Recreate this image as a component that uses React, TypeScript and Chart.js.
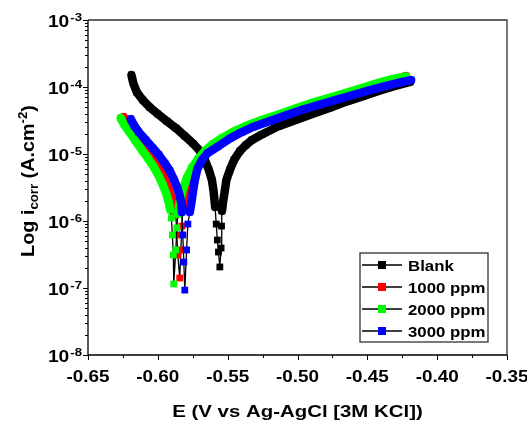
import { useEffect, useRef } from 'react';
import { Chart, registerables } from 'chart.js';
Chart.register(...registerables);

const seriesLabels = ['Blank', '1000 ppm', '2000 ppm', '3000 ppm'];
const seriesColors = ['#000000', '#ff0000', '#00ff00', '#0000ff'];

// Blank
const blankE = [-0.6189, -0.6176, -0.6151, -0.6108, -0.6058, -0.6000, -0.5936, -0.5871, -0.5807, -0.5749, -0.5699, -0.5663, -0.5635, -0.5613, -0.5602, -0.5595,
  -0.5590, -0.5582, -0.5574, -0.5566, -0.5556, -0.5547, -0.5544, -0.5541,
  -0.5534, -0.5523, -0.5509, -0.5484, -0.5455, -0.5412, -0.5369, -0.5326, -0.5255, -0.5140, -0.5018, -0.4889, -0.4767, -0.4645, -0.4530, -0.4409, -0.4301, -0.4193];
const blankI = [1.51e-4, 1.15e-4, 8.4e-5, 6.4e-5, 5.0e-5, 3.95e-5, 3.1e-5, 2.44e-5, 1.86e-5, 1.44e-5, 1.11e-5, 8.1e-6, 5.8e-6, 4.1e-6, 2.9e-6, 2.13e-6,
  1.62e-6, 9.0e-7, 5.2e-7, 3.44e-7, 2.06e-7, 3.95e-7, 8.4e-7, 1.41e-6,
  1.86e-6, 2.6e-6, 4.1e-6, 5.8e-6, 8.1e-6, 1.11e-5, 1.36e-5, 1.62e-5, 1.95e-5, 2.57e-5, 3.2e-5, 4.0e-5, 4.9e-5, 6.1e-5, 7.3e-5, 8.9e-5, 1.04e-4, 1.19e-4];

// 1000 ppm
const ppm1000E = [-0.6244, -0.6223, -0.6187, -0.6140, -0.6094, -0.6050, -0.6007, -0.5972, -0.5943, -0.5918, -0.5900, -0.5886,
  -0.5871, -0.5864, -0.5857, -0.5843, -0.5835, -0.5828, -0.5821,
  -0.5807, -0.5785, -0.5756, -0.5721, -0.5678, -0.5627, -0.5570, -0.5506, -0.5427, -0.5341, -0.5226, -0.5104, -0.4982, -0.4860, -0.4746, -0.4624, -0.4502, -0.4387, -0.4301, -0.4222];
const ppm1000I = [3.56e-5, 2.90e-5, 2.24e-5, 1.67e-5, 1.25e-5, 9.7e-6, 7.3e-6, 5.4e-6, 3.95e-6, 2.9e-6, 2.2e-6, 1.73e-6,
  1.23e-6, 6.2e-7, 3.11e-7, 1.41e-7, 3.7e-7, 8.4e-7, 1.51e-6,
  2.2e-6, 3.33e-6, 4.86e-6, 6.86e-6, 9.0e-6, 1.15e-5, 1.41e-5, 1.67e-5, 2.06e-5, 2.53e-5, 3.16e-5, 3.89e-5, 4.78e-5, 5.77e-5, 6.85e-5, 8.13e-5, 9.66e-5, 1.13e-4, 1.27e-4, 1.46e-4];

// 2000 ppm
const ppm2000E = [-0.6266, -0.6244, -0.6208, -0.6165, -0.6115, -0.6072, -0.6029, -0.5993, -0.5964, -0.5939, -0.5921, -0.5911,
  -0.5903, -0.5896, -0.5889, -0.5886, -0.5871, -0.5864, -0.5857,
  -0.5843, -0.5821, -0.5792, -0.5756, -0.5713, -0.5663, -0.5606, -0.5541, -0.5455, -0.5362, -0.5247, -0.5126, -0.5004, -0.4889, -0.4767, -0.4645, -0.4530, -0.4409, -0.4315, -0.4222];
const ppm2000I = [3.44e-5, 2.81e-5, 2.20e-5, 1.62e-5, 1.15e-5, 8.7e-6, 6.4e-6, 4.7e-6, 3.44e-6, 2.53e-6, 1.86e-6, 1.46e-6,
  1.11e-6, 6.2e-7, 3.11e-7, 1.15e-7, 3.7e-7, 7.9e-7, 1.27e-6,
  1.92e-6, 3.0e-6, 4.4e-6, 6.2e-6, 8.4e-6, 1.11e-5, 1.41e-5, 1.73e-5, 2.17e-5, 2.66e-5, 3.27e-5, 3.95e-5, 4.86e-5, 5.87e-5, 6.97e-5, 8.28e-5, 9.84e-5, 1.17e-4, 1.32e-4, 1.44e-4];

// 3000 ppm
const ppm3000E = [-0.6194, -0.6172, -0.6137, -0.6086, -0.6036, -0.5993, -0.5950, -0.5914, -0.5886, -0.5860, -0.5843, -0.5832,
  -0.5828, -0.5821, -0.5814, -0.5807, -0.5794, -0.5785, -0.5771,
  -0.5760, -0.5749, -0.5735, -0.5717, -0.5685, -0.5642, -0.5570, -0.5484, -0.5405, -0.5319, -0.5197, -0.5075, -0.4961, -0.4839, -0.4717, -0.4602, -0.4480, -0.4358, -0.4265, -0.4186];
const ppm3000I = [3.33e-5, 2.71e-5, 2.13e-5, 1.62e-5, 1.23e-5, 9.7e-6, 7.3e-6, 5.6e-6, 4.2e-6, 3.11e-6, 2.36e-6, 1.86e-6,
  1.36e-6, 6.2e-7, 2.44e-7, 9.3e-8, 3.7e-7, 9.0e-7, 1.36e-6,
  1.86e-6, 2.71e-6, 4.1e-6, 5.97e-6, 8.1e-6, 1.04e-5, 1.29e-5, 1.70e-5, 2.09e-5, 2.53e-5, 3.11e-5, 3.82e-5, 4.61e-5, 5.48e-5, 6.51e-5, 7.6e-5, 9.0e-5, 1.05e-4, 1.17e-4, 1.27e-4];

const seriesE = [blankE, ppm1000E, ppm2000E, ppm3000E];
const seriesI = [blankI, ppm1000I, ppm2000I, ppm3000I];

const xTickValues = [-0.65, -0.60, -0.55, -0.50, -0.45, -0.40, -0.35];
const yTickExponents = [-8, -7, -6, -5, -4, -3];
const xTitle = 'E (V vs Ag-AgCl [3M KCl])';
const yTitleParts = ['Log i', 'corr', ' (A.cm', '-2', ')'];

// segments where the scan is sparse (close to Ecorr) show the thin connecting line
const SPARSE_BELOW = 1.8e-6;

const FONT = '"Liberation Sans", Arial, Helvetica, sans-serif';

type Run = { t: string; size: number; dy?: number };

function runsWidth(ctx: CanvasRenderingContext2D, runs: Run[]) {
  let w = 0;
  for (const r of runs) {
    ctx.font = `bold ${r.size}px ${FONT}`;
    w += ctx.measureText(r.t).width;
  }
  return w;
}

// draws text runs with baseline at (x,y) in the current frame, horizontally stretched by sx
function drawRuns(ctx: CanvasRenderingContext2D, runs: Run[], x: number, y: number, align: 'left' | 'center' | 'right', sx: number, rot = 0) {
  ctx.save();
  ctx.translate(x, y);
  if (rot) ctx.rotate(rot);
  ctx.scale(sx, 1);
  const w = runsWidth(ctx, runs);
  let cx = align === 'left' ? 0 : align === 'center' ? -w / 2 : -w;
  ctx.textAlign = 'left';
  ctx.textBaseline = 'alphabetic';
  ctx.fillStyle = '#000';
  for (const r of runs) {
    ctx.font = `bold ${r.size}px ${FONT}`;
    ctx.fillText(r.t, cx, r.dy || 0);
    cx += ctx.measureText(r.t).width;
  }
  ctx.restore();
}

const framePlugin = {
  id: 'frameAndText',
  afterDraw(chart: any) {
    const { ctx, chartArea: a, scales } = chart;
    const xs = scales.x;
    const ys = scales.y;
    ctx.save();
    // frame
    ctx.lineWidth = 1.3;
    ctx.strokeStyle = '#333';
    ctx.beginPath();
    ctx.moveTo(a.left, a.top);
    ctx.lineTo(a.right, a.top);
    ctx.lineTo(a.right, a.bottom);
    ctx.stroke();
    ctx.strokeStyle = '#000';
    ctx.beginPath();
    ctx.moveTo(a.left, a.top);
    ctx.lineTo(a.left, a.bottom);
    ctx.lineTo(a.right, a.bottom);
    ctx.stroke();

    // x ticks
    ctx.lineWidth = 1;
    ctx.beginPath();
    xTickValues.forEach((v, i) => {
      const px = Math.round(xs.getPixelForValue(v)) + 0.5;
      ctx.moveTo(px, a.bottom);
      ctx.lineTo(px, a.bottom + 5);
      if (i < xTickValues.length - 1) {
        const m = Math.round(xs.getPixelForValue((v + xTickValues[i + 1]) / 2)) + 0.5;
        ctx.moveTo(m, a.bottom);
        ctx.lineTo(m, a.bottom + 3);
      }
    });
    // y ticks
    yTickExponents.forEach((e, i) => {
      const py = Math.round(ys.getPixelForValue(Math.pow(10, e))) + 0.5;
      ctx.moveTo(a.left, py);
      ctx.lineTo(a.left - 5, py);
      if (i < yTickExponents.length - 1) {
        for (let k = 2; k <= 9; k++) {
          const q = Math.round(ys.getPixelForValue(k * Math.pow(10, e))) + 0.5;
          ctx.moveTo(a.left, q);
          ctx.lineTo(a.left - 3, q);
        }
      }
    });
    ctx.stroke();

    // x tick labels
    xTickValues.forEach((v) => {
      const px = xs.getPixelForValue(v);
      drawRuns(ctx, [{ t: v.toFixed(2), size: 16 }], px, a.bottom + 27, 'center', 1.18);
    });
    // y tick labels
    yTickExponents.forEach((e) => {
      const py = ys.getPixelForValue(Math.pow(10, e));
      drawRuns(ctx, [{ t: '10', size: 16 }, { t: ' ', size: 3 }, { t: String(e), size: 11, dy: -6 }], a.left - 6, py + 6.5, 'right', 1.2);
    });
    // axis titles
    drawRuns(ctx, [{ t: xTitle, size: 17 }], (a.left + a.right) / 2, a.bottom + 62, 'center', 1.2);
    drawRuns(ctx, [
      { t: yTitleParts[0], size: 18 },
      { t: yTitleParts[1], size: 12, dy: 4 },
      { t: yTitleParts[2], size: 18 },
      { t: yTitleParts[3], size: 12, dy: -7 },
      { t: yTitleParts[4], size: 18 },
    ], 34, 181, 'center', 1.1, -Math.PI / 2);

    // legend
    const bx = a.right - 147, by = a.bottom - 102, bw = 128, bh = 89;
    ctx.lineWidth = 1.3;
    ctx.strokeStyle = '#333';
    ctx.fillStyle = '#fff';
    ctx.fillRect(bx, by, bw, bh);
    ctx.strokeRect(bx, by, bw, bh);
    chart.data.datasets.forEach((ds: any, i: number) => {
      const ry = by + 12 + i * 22;
      ctx.strokeStyle = '#000';
      ctx.lineWidth = 1.5;
      ctx.beginPath();
      ctx.moveTo(bx + 2, ry);
      ctx.lineTo(bx + 42, ry);
      ctx.stroke();
      ctx.fillStyle = ds.pointBackgroundColor;
      ctx.fillRect(bx + 22 - 4, ry - 4, 8, 8);
      drawRuns(ctx, [{ t: ds.label, size: 15 }], bx + 48, ry + 5.5, 'left', 1.12);
    });
    ctx.restore();
  },
};

export default function App() {
  const ref = useRef<HTMLCanvasElement>(null);
  useEffect(() => {
    if (!ref.current) return;
    const datasets = seriesLabels.map((label, s) => {
      const color = seriesColors[s];
      const thin = (c: any) => c.p0.parsed.y < SPARSE_BELOW && c.p1.parsed.y < SPARSE_BELOW;
      return {
        label,
        data: seriesE[s].map((e, i) => ({ x: e, y: seriesI[s][i] })),
        order: 4 - s,
        borderColor: color,
        backgroundColor: color,
        borderWidth: 8.5,
        borderCapStyle: 'round',
        borderJoinStyle: 'round',
        pointStyle: 'rect',
        pointRadius: 4.8,
        pointBorderWidth: 0,
        pointBackgroundColor: color,
        pointBorderColor: color,
        tension: 0,
        fill: false,
        segment: {
          borderColor: (c: any) => (thin(c) ? '#000000' : color),
          borderWidth: (c: any) => (thin(c) ? 1.3 : 8.5),
        },
      };
    });
    const chart = new Chart(ref.current, {
      type: 'line',
      data: { datasets: datasets as any },
      options: {
        animation: false,
        responsive: false,
        devicePixelRatio: 1,
        events: [],
        layout: { padding: { left: 88, top: 20, right: 20, bottom: 66 } },
        scales: {
          x: { type: 'linear', min: -0.65, max: -0.35, display: false },
          y: { type: 'logarithmic', min: 1e-8, max: 1e-3, display: false },
        },
        plugins: { legend: { display: false }, tooltip: { enabled: false } },
      },
      plugins: [framePlugin],
    });
    return () => chart.destroy();
  }, []);
  return (
    <div style={{ position: 'fixed', left: 0, top: 0, width: 527, height: 421, background: '#fff' }}>
      <canvas ref={ref} width={527} height={421} style={{ width: 527, height: 421 }} />
    </div>
  );
}
